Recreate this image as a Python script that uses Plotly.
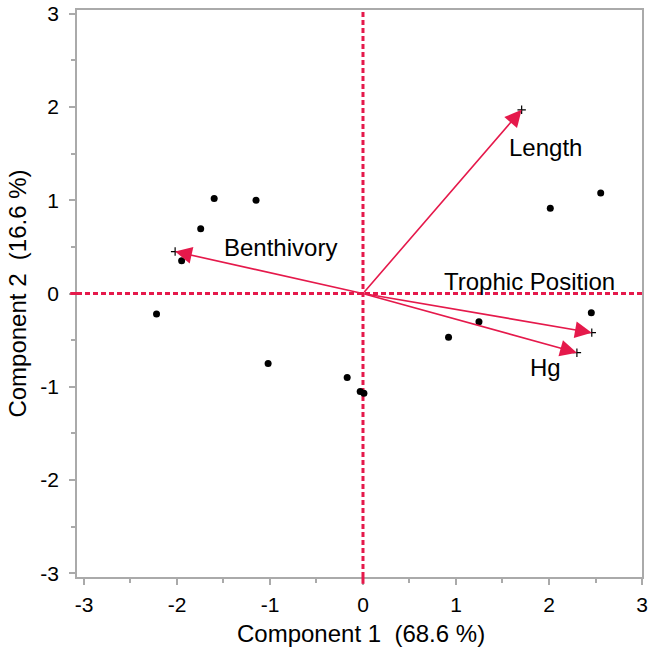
import plotly.graph_objects as go

# Scores (component 1, component 2)
score_x = [-1.60, -1.15, -1.745, -1.95, -2.22, -1.02, -0.17, -0.03, 0.01, 2.556, 2.014, 2.455, 1.247, 0.92]
score_y = [1.02, 1.00, 0.695, 0.35, -0.22, -0.75, -0.90, -1.05, -1.07, 1.078, 0.914, -0.206, -0.302, -0.47]

# Loadings (arrow tips)
var_names = ["Length", "Benthivory", "Trophic Position", "Hg"]
load_x = [1.706, -2.02, 2.46, 2.30]
load_y = [1.97, 0.45, -0.42, -0.635]
label_x = [1.96, -0.89, 1.785, 1.96]
label_y = [1.57, 0.49, 0.125, -0.79]

x_ticks = [-3, -2, -1, 0, 1, 2, 3]
y_ticks = [-3, -2, -1, 0, 1, 2, 3]

x_title = "Component 1\u00a0\u00a0(68.6 %)"
y_title = "Component 2\u00a0\u00a0(16.6 %)"

RED = "#E5194B"
GREY = "#AAAAAA"
FONT = "Liberation Sans, Arial, Helvetica, sans-serif"

fig = go.Figure()

fig.add_trace(go.Scatter(
    x=score_x, y=score_y, mode="markers",
    marker=dict(color="black", size=7), showlegend=False, hoverinfo="x+y"))

# small + markers at arrow tips
fig.add_trace(go.Scatter(
    x=load_x, y=load_y, mode="markers",
    marker=dict(symbol="cross-thin", color="black", size=6, line=dict(color="black", width=1.2)),
    showlegend=False, hoverinfo="skip"))

# zero reference lines
fig.add_shape(type="line", xref="x", yref="paper", x0=0, x1=0, y0=0, y1=1,
              line=dict(color=RED, width=3, dash="5px,3px"), layer="below")
fig.add_shape(type="line", xref="paper", yref="y", x0=0, x1=1, y0=0, y1=0,
              line=dict(color=RED, width=3, dash="5px,3px"), layer="below")
# red zero ticks outside plot area
fig.add_shape(type="line", xref="x", yref="paper", x0=0, x1=0, y0=-0.012, y1=0,
              line=dict(color=RED, width=3))
fig.add_shape(type="line", xref="paper", yref="y", x0=-0.012, x1=0, y0=0, y1=0,
              line=dict(color=RED, width=3))

for name, tx, ty, lx, ly in zip(var_names, load_x, load_y, label_x, label_y):
    fig.add_annotation(x=tx, y=ty, ax=0, ay=0, xref="x", yref="y", axref="x", ayref="y",
                       text="", showarrow=True, arrowhead=2, arrowsize=2.1, arrowwidth=1.6,
                       arrowcolor=RED, standoff=0)
    fig.add_annotation(x=lx, y=ly, xref="x", yref="y", text=name, showarrow=False,
                       font=dict(size=24, color="black", family=FONT))

# axis titles
fig.add_annotation(x=0.503, y=-0.099, xref="paper", yref="paper", text=x_title,
                   showarrow=False, xanchor="center", yanchor="middle",
                   font=dict(size=24, color="black", family=FONT))
fig.add_annotation(x=-0.106, y=0.5, xref="paper", yref="paper", text=y_title,
                   showarrow=False, xanchor="center", yanchor="middle", textangle=-90,
                   font=dict(size=24, color="black", family=FONT))

axis_common = dict(
    showgrid=False, zeroline=False, showline=True, linecolor=GREY, linewidth=1.5,
    mirror=True, ticks="outside", ticklen=6, tickwidth=1.5, tickcolor=GREY,
    tickfont=dict(size=21, color="black", family=FONT), automargin=False,
    ticklabeloverflow="allow",
    minor=dict(ticks="outside", ticklen=4, tickwidth=1.5, tickcolor=GREY, dtick=0.5),
)

fig.update_xaxes(range=[-3.075, 3.0], tickvals=x_ticks, ticktext=[str(v) for v in x_ticks],
                 ticklabelstandoff=2, **axis_common)
fig.update_yaxes(range=[-3.04, 3.04], tickvals=y_ticks, ticktext=[str(v) for v in y_ticks],
                 ticklabelstandoff=6, **axis_common)

fig.update_layout(
    width=650, height=650,
    margin=dict(l=77, r=8, t=10, b=73),
    plot_bgcolor="white", paper_bgcolor="white",
    font=dict(family=FONT),
)

fig.write_html("out.html", default_width="650px", default_height="650px",
               config={"displayModeBar": False},
               post_script="document.body.style.margin='0';document.body.style.overflow='hidden';")
